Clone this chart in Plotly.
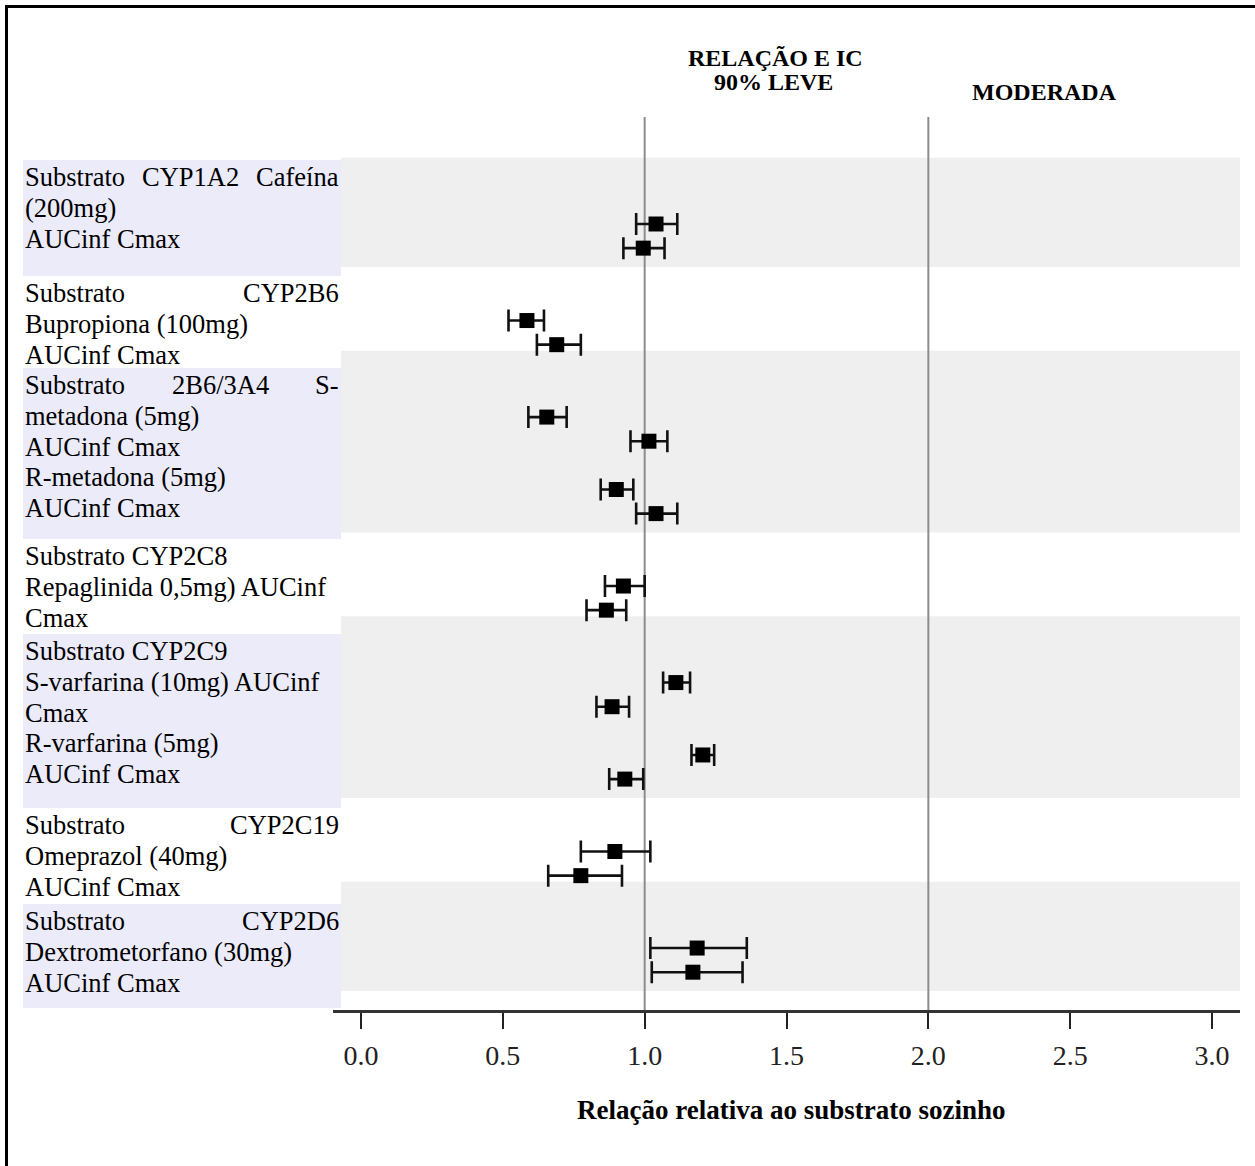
import plotly.graph_objects as go

# ---------------- data ----------------
substrates = ["Cafeína", "Bupropiona", "S-metadona", "R-metadona", "Repaglinida",
              "S-varfarina", "R-varfarina", "Omeprazol", "Dextrometorfano"]
substrate_group = [0, 1, 2, 2, 3, 4, 4, 5, 6]

auc_ratio = [1.04, 0.585, 0.655, 0.90, 0.925, 1.11, 1.205, 0.895, 1.185]
auc_lo    = [0.97, 0.52, 0.59, 0.845, 0.86, 1.065, 1.165, 0.775, 1.02]
auc_hi    = [1.115, 0.645, 0.725, 0.96, 1.00, 1.16, 1.245, 1.02, 1.36]

cmax_ratio = [0.995, 0.69, 1.015, 1.04, 0.865, 0.885, 0.93, 0.775, 1.17]
cmax_lo    = [0.925, 0.62, 0.95, 0.97, 0.795, 0.83, 0.875, 0.66, 1.025]
cmax_hi    = [1.07, 0.775, 1.08, 1.115, 0.935, 0.945, 0.995, 0.92, 1.345]

reference_lines = [1.0, 2.0]
tick_values = [0.0, 0.5, 1.0, 1.5, 2.0, 2.5, 3.0]
tick_labels = ["0.0", "0.5", "1.0", "1.5", "2.0", "2.5", "3.0"]

label_blocks = [
    ["Substrato|CYP1A2|Cafeína", "(200mg)", "AUCinf Cmax"],
    ["Substrato|CYP2B6", "Bupropiona (100mg)", "AUCinf Cmax"],
    ["Substrato|2B6/3A4|S-", "metadona (5mg)", "AUCinf Cmax", "R-metadona (5mg)", "AUCinf Cmax"],
    ["Substrato CYP2C8", "Repaglinida 0,5mg) AUCinf", "Cmax"],
    ["Substrato CYP2C9", "S-varfarina (10mg) AUCinf", "Cmax", "R-varfarina (5mg)", "AUCinf Cmax"],
    ["Substrato|CYP2C19", "Omeprazol (40mg)", "AUCinf Cmax"],
    ["Substrato|CYP2D6", "Dextrometorfano (30mg)", "AUCinf Cmax"],
]
header_main = ["RELAÇÃO E IC", "90% LEVE"]
header_moderate = "MODERADA"
x_title = "Relação relativa ao substrato sozinho"

# ---------------- layout geometry (pixel coordinates) ----------------
FIG_W, FIG_H = 1255, 1166
L, R, T, B = 333, 1240, 117, 1010  # plot area


def px(xp):
    return (xp - L) / (R - L)


def py(yp):
    return (B - yp) / (B - T)


# row slots derived from the group structure
auc_y, cmax_y = [], []
slot = 0
for i, g in enumerate(substrate_group):
    if i > 0:
        slot += 3 if g == substrate_group[i - 1] else 4
    auc_y.append(slot)
    cmax_y.append(slot + 1)

SERIF = "Liberation Serif"
BAND = "#efefef"
LAV = "#ebebfa"

fig = go.Figure()


def err(r, lo, hi):
    return dict(type="data", symmetric=False,
                array=[h - v for v, h in zip(r, hi)],
                arrayminus=[v - l for v, l in zip(r, lo)],
                color="#111111", thickness=2.6, width=11)


fig.add_trace(go.Scatter(x=auc_ratio, y=auc_y, mode="markers", name="AUCinf",
                         marker=dict(symbol="square", size=15, color="#000000"),
                         error_x=err(auc_ratio, auc_lo, auc_hi)))
fig.add_trace(go.Scatter(x=cmax_ratio, y=cmax_y, mode="markers", name="Cmax",
                         marker=dict(symbol="square", size=15, color="#000000"),
                         error_x=err(cmax_ratio, cmax_lo, cmax_hi)))

shapes = []
n_groups = len(label_blocks)
for g in range(0, n_groups, 2):
    idx = [i for i, gg in enumerate(substrate_group) if gg == g]
    first = auc_y[idx[0]]
    last = cmax_y[idx[-1]]
    shapes.append(dict(type="rect", xref="paper", yref="y", x0=px(341), x1=1,
                       y0=first - 2.75, y1=last + 0.78, fillcolor=BAND,
                       line=dict(width=0), layer="below"))
for v in reference_lines:
    shapes.append(dict(type="line", xref="x", yref="paper", x0=v, x1=v, y0=0, y1=1,
                       line=dict(color="#8c8c8c", width=2), layer="below"))

block_tops = [160, 276, 368, 539, 634, 808, 904]
block_bottom_last = 1008
for b in range(0, n_groups, 2):
    top = block_tops[b]
    bot = block_tops[b + 1] if b + 1 < n_groups else block_bottom_last
    shapes.append(dict(type="rect", xref="paper", yref="paper", x0=px(23), x1=px(341),
                       y0=py(bot), y1=py(top), fillcolor=LAV, line=dict(width=0),
                       layer="below"))

# outer frame (left and top)
shapes.append(dict(type="line", xref="paper", yref="paper", x0=px(6.5), x1=px(6.5),
                   y0=py(FIG_H + 5), y1=py(6.5), line=dict(color="#000000", width=3)))
shapes.append(dict(type="line", xref="paper", yref="paper", x0=px(5), x1=px(FIG_W + 5),
                   y0=py(6.5), y1=py(6.5), line=dict(color="#000000", width=3)))

annotations = []
LABEL_FONT = dict(family=SERIF, size=26.5, color="#000000")
middle_word_center = {"CYP1A2": 190, "2B6/3A4": 220}
LINE_H = 30.8
for b, lines in enumerate(label_blocks):
    for k, line in enumerate(lines):
        yc = block_tops[b] + 17 + k * LINE_H
        parts = line.split("|")
        annotations.append(dict(text=parts[0], xref="paper", yref="paper", x=px(23), y=py(yc),
                                xanchor="left", yanchor="middle", showarrow=False,
                                font=LABEL_FONT))
        if len(parts) > 1:
            annotations.append(dict(text=parts[-1], xref="paper", yref="paper", x=px(341), y=py(yc),
                                    xanchor="right", yanchor="middle", showarrow=False,
                                    font=LABEL_FONT))
        if len(parts) == 3:
            annotations.append(dict(text=parts[1], xref="paper", yref="paper",
                                    x=px(middle_word_center[parts[1]]), y=py(yc),
                                    xanchor="center", yanchor="middle", showarrow=False,
                                    font=LABEL_FONT))

HEAD_FONT = dict(family=SERIF, size=24, color="#000000")
annotations.append(dict(text="<b>%s</b>" % header_main[0], xref="paper", yref="paper",
                        x=px(775), y=py(58), xanchor="center", yanchor="middle",
                        showarrow=False, font=HEAD_FONT))
annotations.append(dict(text="<b>%s</b>" % header_main[1], xref="paper", yref="paper",
                        x=px(773), y=py(82), xanchor="center", yanchor="middle",
                        showarrow=False, font=HEAD_FONT))
annotations.append(dict(text="<b>%s</b>" % header_moderate, xref="paper", yref="paper",
                        x=px(1044), y=py(92), xanchor="center", yanchor="middle",
                        showarrow=False, font=HEAD_FONT))
annotations.append(dict(text="<b>%s</b>" % x_title, xref="paper", yref="paper",
                        x=px(791), y=py(1110), xanchor="center", yanchor="middle",
                        showarrow=False, font=dict(family=SERIF, size=27, color="#000000")))

fig.update_layout(
    width=FIG_W, height=FIG_H, autosize=False,
    margin=dict(l=L, r=FIG_W - R, t=T, b=FIG_H - B, pad=0),
    paper_bgcolor="#ffffff", plot_bgcolor="rgba(0,0,0,0)",
    showlegend=False,
    shapes=shapes, annotations=annotations,
    xaxis=dict(range=[(L - 361) / 283.67, (R - 361) / 283.67], showgrid=False, zeroline=False,
               showline=True, linecolor="#333333", linewidth=2.5,
               ticks="outside", ticklen=16, tickwidth=2, tickcolor="#222222",
               tickvals=tick_values, ticktext=tick_labels, ticklabelstandoff=3,
               tickfont=dict(family=SERIF, size=28, color="#222222"),
               fixedrange=True),
    yaxis=dict(range=[(B - 224) / 24.135, (T - 224) / 24.135], visible=False,
               showgrid=False, zeroline=False, fixedrange=True),
)

fig.write_html("out.html", config={"displayModeBar": False},
               post_script="document.body.style.margin='0px';")
